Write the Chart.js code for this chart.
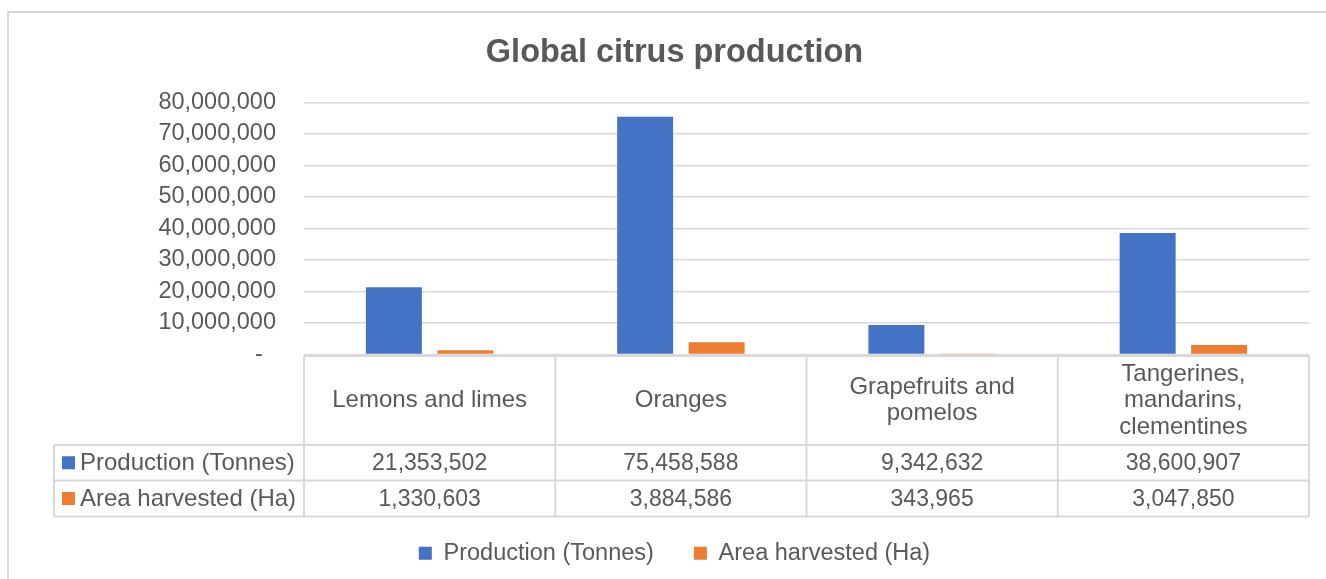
<!DOCTYPE html>
<html>
<head>
<meta charset="utf-8">
<title>Global citrus production</title>
<script src="https://cdn.jsdelivr.net/npm/chart.js@4.4.1/dist/chart.umd.min.js"></script>
<style>
    html, body { margin: 0; padding: 0; background: #fff; }
    #wrap { width: 1326px; height: 579px; }
</style>
</head>
<body>
<div id="wrap"><canvas id="chart" width="1326" height="579"></canvas></div>
<script>
// data
const categories = [
    ['Lemons and limes'],
    ['Oranges'],
    ['Grapefruits and', 'pomelos'],
    ['Tangerines,', 'mandarins,', 'clementines'],
];
const seriesNames = ['Production (Tonnes)', 'Area harvested (Ha)'];
const production = [21353502, 75458588, 9342632, 38600907];
const areaHarvested = [1330603, 3884586, 343965, 3047850];
const yMax = 80000000;
const yStep = 10000000;

const FONT = '"Liberation Sans", Arial, sans-serif';
const TEXT = '#595959';
const LINE = '#d9d9d9';

const fmt = (v) => v.toLocaleString('en-US');

// light frame round the chart
const framePlugin = {
    id: 'frame',
    beforeDraw(chart) {
        const ctx = chart.ctx;
        ctx.save();
        ctx.fillStyle = '#fff';
        ctx.fillRect(0, 0, chart.width, chart.height);
        ctx.strokeStyle = LINE;
        ctx.lineWidth = 2;
        ctx.strokeRect(8, 12, chart.width + 50, chart.height + 50);
        ctx.restore();
    },
};

// data table under the plot, like the Excel one
const tablePlugin = {
    id: 'dataTable',
    afterDraw(chart) {
        const ctx = chart.ctx;
        const x = chart.scales.x;
        const area = chart.chartArea;
        const band = (area.right - area.left) / categories.length;
        const top = area.bottom + 1.5;
        const headBottom = top + 89;
        const row1 = headBottom + 35.5;
        const row2 = row1 + 36;
        const labelLeft = 54;

        ctx.save();
        ctx.strokeStyle = LINE;
        ctx.lineWidth = 2;
        ctx.beginPath();
        // horizontal lines
        ctx.moveTo(area.left, top); ctx.lineTo(area.right, top);
        ctx.moveTo(labelLeft, headBottom); ctx.lineTo(area.right, headBottom);
        ctx.moveTo(labelLeft, row1); ctx.lineTo(area.right, row1);
        ctx.moveTo(labelLeft, row2); ctx.lineTo(area.right, row2);
        // vertical lines
        ctx.moveTo(labelLeft, headBottom); ctx.lineTo(labelLeft, row2);
        for (let i = 0; i <= categories.length; i++) {
            const px = area.left + i * band;
            ctx.moveTo(px, top); ctx.lineTo(px, row2);
        }
        ctx.stroke();

        ctx.fillStyle = TEXT;
        ctx.font = '24px ' + FONT;
        ctx.textAlign = 'center';
        ctx.textBaseline = 'middle';
        const headMid = (top + headBottom) / 2;
        const lh = 26.5;
        chart.data.labels.forEach((lines, i) => {
            const cx = x.getPixelForValue(i);
            const y0 = headMid - ((lines.length - 1) * lh) / 2;
            lines.forEach((t, j) => ctx.fillText(t, cx, y0 + j * lh));
        });

        const rowMids = [(headBottom + row1) / 2, (row1 + row2) / 2];
        chart.data.datasets.forEach((ds, r) => {
            ctx.textAlign = 'center';
            ctx.font = '23px ' + FONT;
            ds.data.forEach((v, i) => {
                ctx.fillText(fmt(v), x.getPixelForValue(i), rowMids[r] + 1);
            });
            ctx.fillStyle = ds.backgroundColor;
            ctx.fillRect(62, rowMids[r] - 6.5, 13, 13);
            ctx.fillStyle = TEXT;
            ctx.textAlign = 'left';
            ctx.font = '24px ' + FONT;
            ctx.fillText(ds.label, 80, rowMids[r] + 1);
        });
        ctx.restore();
    },
};

new Chart(document.getElementById('chart'), {
    type: 'bar',
    data: {
        labels: categories,
        datasets: [
            { label: seriesNames[0], data: production, backgroundColor: '#4472C4' },
            { label: seriesNames[1], data: areaHarvested, backgroundColor: '#ED7D31' },
        ],
    },
    options: {
        responsive: false,
        animation: false,
        devicePixelRatio: 1,
        categoryPercentage: 0.569,
        barPercentage: 0.783,
        layout: {
            autoPadding: false,
            padding: { left: 40, right: 17, top: 0, bottom: 4 },
        },
        scales: {
            x: {
                grid: { display: false },
                border: { display: false },
                ticks: { display: false },
                afterFit: (s) => { s.height = 147; },
            },
            y: {
                min: 0,
                max: yMax,
                border: { display: false },
                grid: { color: LINE, lineWidth: 1.5, drawTicks: false },
                ticks: {
                    stepSize: yStep,
                    padding: 28,
                    color: TEXT,
                    font: { family: FONT, size: 23.5 },
                    callback: (v) => (v === 0 ? '-  ' : fmt(v)),
                },
                afterFit: (s) => { s.width = 264; },
            },
        },
        plugins: {
            title: {
                display: true,
                text: 'Global citrus production',
                color: TEXT,
                font: { family: FONT, size: 32.5, weight: 'bold' },
                padding: { top: 34, bottom: 29.5 },
            },
            legend: {
                position: 'bottom',
                labels: {
                    color: TEXT,
                    font: { family: FONT, size: 23.5 },
                    boxWidth: 13,
                    boxHeight: 13,
                    padding: 40,
                },
            },
            tooltip: { enabled: false },
        },
    },
    plugins: [framePlugin, tablePlugin],
});
</script>
</body>
</html>
